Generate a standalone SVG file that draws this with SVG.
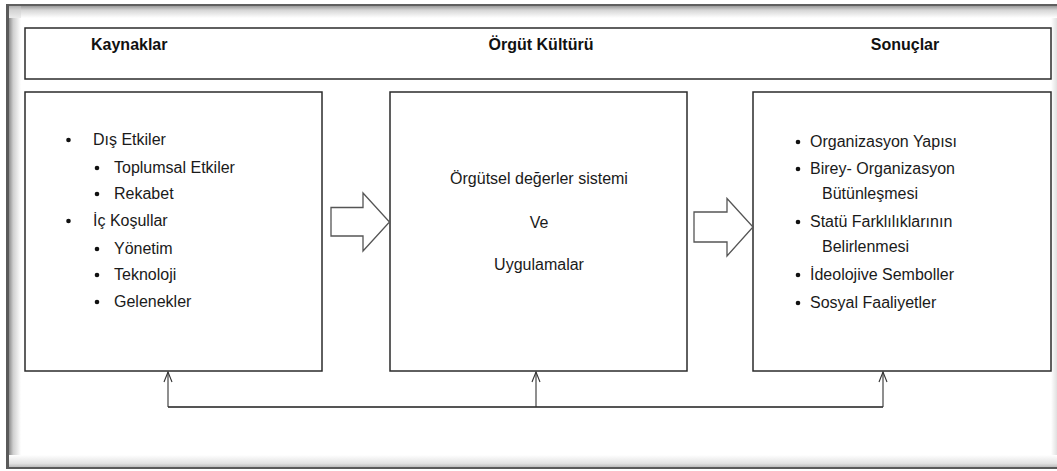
<svg xmlns="http://www.w3.org/2000/svg" width="1057" height="471" viewBox="0 0 1057 471">
  <defs>
    <linearGradient id="shadeLeft" x1="0" y1="0" x2="1" y2="0">
      <stop offset="0" stop-color="#8c8c8c"/>
      <stop offset="0.35" stop-color="#cfcfcf"/>
      <stop offset="1" stop-color="#ffffff"/>
    </linearGradient>
    <linearGradient id="shadeTop" x1="0" y1="0" x2="0" y2="1">
      <stop offset="0" stop-color="#9a9a9a"/>
      <stop offset="0.35" stop-color="#d6d6d6"/>
      <stop offset="1" stop-color="#ffffff"/>
    </linearGradient>
    <linearGradient id="shadeBottom" x1="0" y1="0" x2="0" y2="1">
      <stop offset="0" stop-color="#ffffff"/>
      <stop offset="0.7" stop-color="#e2e2e2"/>
      <stop offset="1" stop-color="#bdbdbd"/>
    </linearGradient>
    <linearGradient id="shadeRight" x1="0" y1="0" x2="1" y2="0">
      <stop offset="0" stop-color="#ffffff"/>
      <stop offset="1" stop-color="#e0e0e0"/>
    </linearGradient>
    <!-- open V head, tip at the line end -->
    <marker id="openHead" viewBox="0 0 12 10" refX="11" refY="5" markerWidth="12" markerHeight="10" markerUnits="userSpaceOnUse" orient="auto">
      <path d="M1,1 L11,5 L1,9" fill="none" stroke="#333" stroke-width="1.1"/>
    </marker>
  </defs>
  <style>
    .box { fill: #ffffff; stroke: #2b2b2b; stroke-width: 1.5; }
    .block { fill: #ffffff; stroke: #555555; stroke-width: 1.3; stroke-linejoin: miter; }
    .txt { font-family: "Liberation Sans", Arial, sans-serif; font-size: 16px; fill: #1a1a1a; }
    .head { font-family: "Liberation Sans", Arial, sans-serif; font-size: 16px; font-weight: bold; fill: #111111; }
    .mid { text-anchor: middle; }
    .dot { fill: #111111; }
    .feed { fill: none; stroke: #333333; stroke-width: 1.1; }
    .bus { fill: none; stroke: #555555; stroke-width: 2; }
  </style>

  <!-- page frame with inset shading -->
  <g id="frame">
    <rect x="0" y="0" width="1057" height="471" fill="#ffffff"/>
    <rect x="9" y="6" width="12" height="461" fill="url(#shadeLeft)"/>
    <rect x="9" y="6" width="1048" height="12" fill="url(#shadeTop)"/>
    <rect x="9" y="455" width="1048" height="12" fill="url(#shadeBottom)"/>
    <rect x="1051" y="18" width="6" height="437" fill="url(#shadeRight)"/>
    <rect x="9" y="6" width="12" height="12" fill="#d0d0d0" opacity="0.4"/>
    <rect x="6" y="4" width="1051" height="2" fill="#5f5f5f"/>
    <rect x="6" y="4" width="3" height="465" fill="#5a5a5a"/>
    <rect x="6" y="467" width="1051" height="2" fill="#5a5a5a"/>
  </g>

  <!-- title band -->
  <g id="header">
    <rect class="box" x="25" y="28" width="1026" height="51"/>
    <text class="head" x="91" y="50">Kaynaklar</text>
    <text class="head mid" x="541" y="50">Örgüt Kültürü</text>
    <text class="head mid" x="905" y="50">Sonuçlar</text>
  </g>

  <!-- sources -->
  <g id="kaynaklar">
    <rect class="box" x="25" y="92" width="297" height="279"/>
    <circle class="dot" cx="68.5" cy="140" r="2.3"/>
    <text class="txt" x="93" y="145">Dış Etkiler</text>
    <circle class="dot" cx="97" cy="168" r="2.3"/>
    <text class="txt" x="114" y="173">Toplumsal Etkiler</text>
    <circle class="dot" cx="97" cy="194" r="2.3"/>
    <text class="txt" x="114" y="199">Rekabet</text>
    <circle class="dot" cx="68.5" cy="221" r="2.3"/>
    <text class="txt" x="93" y="226">İç Koşullar</text>
    <circle class="dot" cx="97" cy="249" r="2.3"/>
    <text class="txt" x="114" y="254">Yönetim</text>
    <circle class="dot" cx="97" cy="275" r="2.3"/>
    <text class="txt" x="114" y="280">Teknoloji</text>
    <circle class="dot" cx="97" cy="302" r="2.3"/>
    <text class="txt" x="114" y="307">Gelenekler</text>
  </g>

  <!-- culture -->
  <g id="orgut-kulturu">
    <rect class="box" x="390" y="92" width="297" height="279"/>
    <text class="txt mid" x="539" y="184">Örgütsel değerler sistemi</text>
    <text class="txt mid" x="539" y="228">Ve</text>
    <text class="txt mid" x="539" y="270">Uygulamalar</text>
  </g>

  <!-- outcomes -->
  <g id="sonuclar">
    <rect class="box" x="753" y="92" width="298" height="279"/>
    <circle class="dot" cx="798" cy="142" r="2.3"/>
    <text class="txt" x="810" y="147">Organizasyon Yapısı</text>
    <circle class="dot" cx="798" cy="169" r="2.3"/>
    <text class="txt" x="810" y="174">Birey- Organizasyon</text>
    <text class="txt" x="822" y="199">Bütünleşmesi</text>
    <circle class="dot" cx="798" cy="222" r="2.3"/>
    <text class="txt" x="810" y="227">Statü Farklılıklarının</text>
    <text class="txt" x="822" y="252">Belirlenmesi</text>
    <circle class="dot" cx="798" cy="275" r="2.3"/>
    <text class="txt" x="810" y="280">İdeolojive Semboller</text>
    <circle class="dot" cx="798" cy="303" r="2.3"/>
    <text class="txt" x="810" y="308">Sosyal Faaliyetler</text>
  </g>

  <!-- flow arrows and feedback loop -->
  <g id="connectors">
    <polygon class="block" points="331,207.5 363,207.5 363,193 389.5,222 363,251 363,236 331,236"/>
    <polygon class="block" points="694,212 727,212 727,198.5 753,227 727,256 727,242 694,242"/>
    <polyline class="bus" points="168,407 883,407"/>
    <line class="feed" x1="168" y1="407" x2="168" y2="372" marker-end="url(#openHead)"/>
    <line class="feed" x1="536" y1="407" x2="536" y2="372" marker-end="url(#openHead)"/>
    <line class="feed" x1="883" y1="407" x2="883" y2="372" marker-end="url(#openHead)"/>
  </g>
</svg>
